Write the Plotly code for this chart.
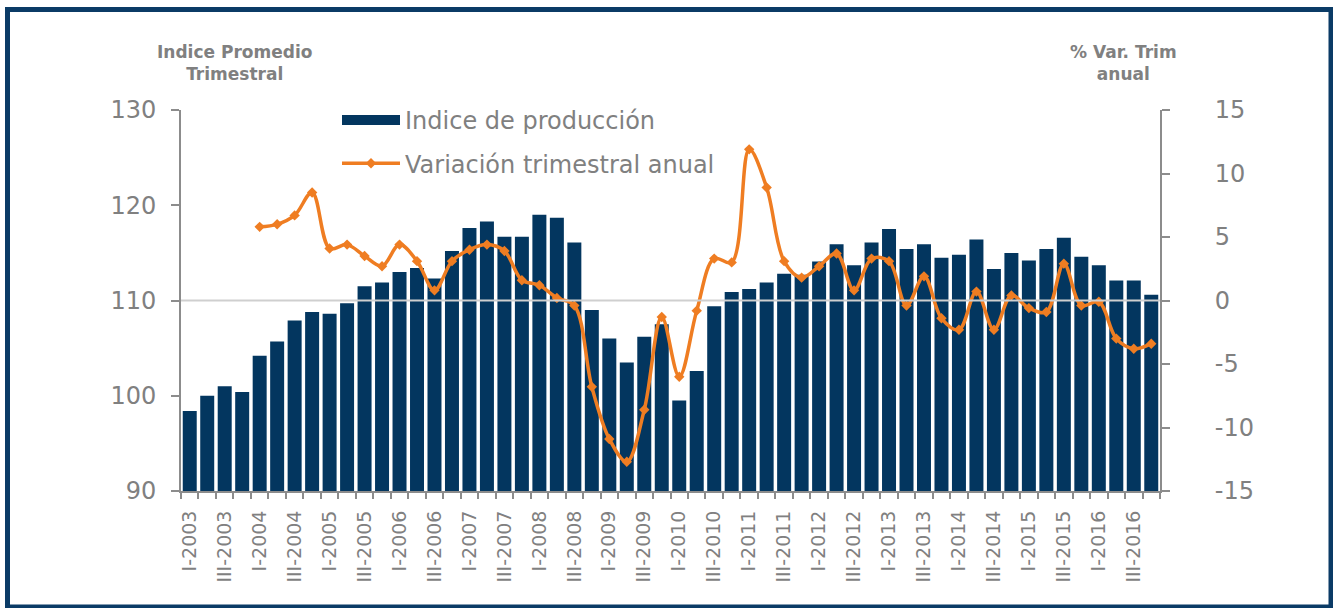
import plotly.graph_objects as go

quarters = [
    "I-2003", "II-2003", "III-2003", "IV-2003",
    "I-2004", "II-2004", "III-2004", "IV-2004",
    "I-2005", "II-2005", "III-2005", "IV-2005",
    "I-2006", "II-2006", "III-2006", "IV-2006",
    "I-2007", "II-2007", "III-2007", "IV-2007",
    "I-2008", "II-2008", "III-2008", "IV-2008",
    "I-2009", "II-2009", "III-2009", "IV-2009",
    "I-2010", "II-2010", "III-2010", "IV-2010",
    "I-2011", "II-2011", "III-2011", "IV-2011",
    "I-2012", "II-2012", "III-2012", "IV-2012",
    "I-2013", "II-2013", "III-2013", "IV-2013",
    "I-2014", "II-2014", "III-2014", "IV-2014",
    "I-2015", "II-2015", "III-2015", "IV-2015",
    "I-2016", "II-2016", "III-2016", "IV-2016",
]

indice_produccion = [
    98.4, 100.0, 101.0, 100.4,
    104.2, 105.7, 107.9, 108.8,
    108.6, 109.7, 111.5, 111.9,
    113.0, 113.4, 112.3, 115.2,
    117.6, 118.3, 116.7, 116.7,
    119.0, 118.7, 116.1, 109.0,
    106.0, 103.5, 106.2, 107.5,
    99.5, 102.6, 109.4, 110.9,
    111.2, 111.9, 112.8, 112.7,
    114.1, 115.9, 113.7, 116.1,
    117.5, 115.4, 115.9, 114.5,
    114.8, 116.4, 113.3, 115.0,
    114.2, 115.4, 116.6, 114.6,
    113.7, 112.1, 112.1, 110.6,
]

variacion_anual = [
    None, None, None, None,
    5.8, 6.0, 6.7, 8.5,
    4.1, 4.4, 3.5, 2.7,
    4.4, 3.1, 0.8, 3.1,
    4.0, 4.4, 3.9, 1.6,
    1.2, 0.2, -0.4, -6.8,
    -10.9, -12.7, -8.6, -1.3,
    -6.0, -0.8, 3.3, 3.0,
    11.9, 8.9, 3.1, 1.8,
    2.7, 3.7, 0.8, 3.3,
    3.1, -0.4, 1.9, -1.4,
    -2.3, 0.7, -2.3, 0.4,
    -0.6, -0.9, 2.9, -0.4,
    -0.1, -3.0, -3.8, -3.4,
]

left_ticks = [90, 100, 110, 120, 130]
right_ticks = [-15, -10, -5, 0, 5, 10, 15]
right_tick_text = ["-15", "-10", "-5", "0", "5", "10", "15"]
tick_text = [q if i % 2 == 0 else "" for i, q in enumerate(quarters)]

NAVY = "#03365F"
ORANGE = "#EF7D22"
GRAY_TXT = "#808080"
AXIS = "#8C8C8C"
FONT = "DejaVu Sans"

W, H = 1333, 608
PL, PR, PT, PB = 181, 1160, 110, 491  # plot area in pixels


def px_x(x):
    return (x - PL) / (PR - PL)


def px_y(y):
    return (PB - y) / (PB - PT)


fig = go.Figure()
fig.add_trace(go.Bar(
    x=quarters, y=indice_produccion, name="Indice de producción",
    marker=dict(color=NAVY, line=dict(width=0)),
    showlegend=False, yaxis="y",
))
# legend entry for the bars (wide swatch like the original)
fig.add_trace(go.Scatter(
    x=[None], y=[None], name="Indice de producción", mode="lines",
    line=dict(color=NAVY, width=14), legendgroup="a", yaxis="y",
))
fig.add_trace(go.Scatter(
    x=quarters, y=variacion_anual, name="Variación trimestral anual",
    mode="lines+markers",
    line=dict(color=ORANGE, width=3.5, shape="spline", smoothing=1),
    marker=dict(symbol="diamond", size=8, color=ORANGE),
    legendgroup="b", yaxis="y2",
))

axis_common = dict(showgrid=False, zeroline=False, linecolor=AXIS, linewidth=2,
                   tickcolor=AXIS, tickwidth=2)

fig.update_layout(
    width=W, height=H, autosize=False,
    margin=dict(l=PL, r=W - PR, t=PT, b=H - PB, pad=0),
    paper_bgcolor="white", plot_bgcolor="white",
    font=dict(family=FONT, color=GRAY_TXT),
    bargap=0.2,
    showlegend=True,
    legend=dict(
        x=px_x(337), y=px_y(98), xanchor="left", yanchor="top",
        font=dict(size=24, color=GRAY_TXT, family=FONT),
        bgcolor="rgba(0,0,0,0)", tracegroupgap=9, itemwidth=58,
    ),
    xaxis=dict(
        type="category", range=[-0.5, len(quarters) - 0.5],
        showline=True, ticks="outside", ticklen=6, tickson="boundaries",
        tickmode="array", tickvals=quarters, ticktext=tick_text,
        tickangle=-90, tickfont=dict(size=19, color=GRAY_TXT, family=FONT),
        ticklabelstandoff=10, **axis_common,
    ),
    yaxis=dict(
        range=[90, 130], tickmode="array", tickvals=left_ticks,
        showline=True, ticks="outside",
        ticklen=8, tickfont=dict(size=24, color=GRAY_TXT, family=FONT),
        ticklabelstandoff=10, **axis_common,
    ),
    yaxis2=dict(
        range=[-15, 15], tickmode="array", tickvals=right_ticks, ticktext=right_tick_text,
        overlaying="y", side="right",
        anchor="x", showline=True, ticks="outside", ticklen=8,
        tickfont=dict(size=24, color=GRAY_TXT, family=FONT),
        ticklabelstandoff=40, **axis_common,
    ),
    xaxis2=dict(
        overlaying="x", anchor="y", side="bottom", type="linear",
        range=[-0.5, len(quarters) - 0.5], tickmode="linear", tick0=-0.5, dtick=1,
        ticks="inside", ticklen=8, showticklabels=False, showline=False,
        showgrid=False, zeroline=False, tickcolor=AXIS, tickwidth=2,
    ),
    yaxis3=dict(
        overlaying="y", anchor="x", side="left", range=[90, 130],
        tickmode="array", tickvals=left_ticks,
        ticks="inside", ticklen=8, showticklabels=False, showline=False,
        showgrid=False, zeroline=False, tickcolor=AXIS, tickwidth=2,
    ),
    yaxis4=dict(
        overlaying="y", anchor="x", side="right", range=[-15, 15],
        tickmode="array", tickvals=right_ticks,
        ticks="inside", ticklen=8, showticklabels=False, showline=False,
        showgrid=False, zeroline=False, tickcolor=AXIS, tickwidth=2,
    ),
    shapes=[
        dict(type="line", xref="paper", x0=0, x1=1, yref="y2", y0=0, y1=0,
             line=dict(color="#CFCFCF", width=2), layer="above"),
        dict(type="rect", xref="paper", yref="paper",
             x0=px_x(7.5), x1=px_x(1331), y0=px_y(607), y1=px_y(9.5),
             line=dict(color="#0B3B66", width=5), fillcolor="rgba(0,0,0,0)",
             layer="above"),
    ],
    annotations=[
        dict(text="<b>Indice Promedio<br>Trimestral</b>", xref="paper", yref="paper",
             x=px_x(234), y=px_y(63), xanchor="center", yanchor="middle",
             showarrow=False, font=dict(size=17, color=GRAY_TXT, family=FONT)),
        dict(text="<b>% Var. Trim<br>anual</b>", xref="paper", yref="paper",
             x=px_x(1123), y=px_y(63), xanchor="center", yanchor="middle",
             showarrow=False, font=dict(size=17, color=GRAY_TXT, family=FONT)),
    ],
)

fig.write_html("out.html", config={"displayModeBar": False},
               post_script="document.body.style.margin='0';")
